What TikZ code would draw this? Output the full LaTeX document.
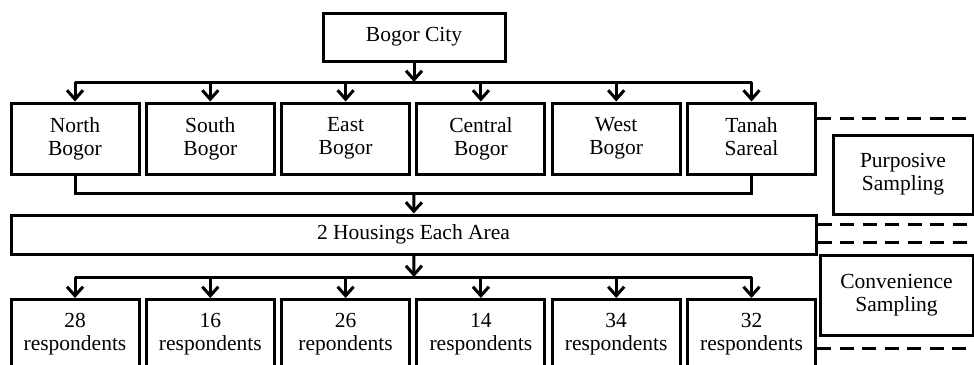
\documentclass[tikz,border=0pt]{standalone}
\usepackage{fontspec}
\setmainfont{Liberation Serif}
\usetikzlibrary{arrows.meta}

\begin{document}
\begin{tikzpicture}[x=1pt,y=-1pt,
  box/.style={draw,line width=3pt,align=center,inner sep=0pt,
    font=\fontsize{21.5}{23}\selectfont},
  area/.style={box,minimum width=128pt,minimum height=71pt},
  link/.style={line width=3pt},
  arr/.style={link,-{Straight Barb[length=9pt,width=16pt]}},
  guide/.style={line width=3pt,dash pattern=on 14pt off 8.5pt}]
  \useasboundingbox (0,0) rectangle (974,364);
  \clip (0,0) rectangle (974,364);
  \coordinate (edge) at (974,0);
  % top of the tree
  \node[box,minimum width=182pt,minimum height=48pt] (city) at (414,37) {Bogor City};
  \foreach \txt [count=\i] in {North\\Bogor,South\\Bogor,East\\Bogor,Central\\Bogor,West\\Bogor,Tanah\\Sareal\vphantom{g}}
    \node[area] (d\i) at ({75+135.3*(\i-1)},138.5) {\txt};
  \coordinate (busA) at (414,82);
  \draw[arr] (city) -- (busA);
  \draw[link] (d1 |- busA) -- (d6 |- busA);
  \foreach \i in {1,...,6} \draw[arr] (d\i |- busA) -- (d\i);
  % housings
  \node[box,minimum width=805pt,minimum height=39pt] (house) at (413.5,234.5) {2 Housings Each Area};
  \coordinate (busB) at (414,193);
  \draw[link] (d1) -- (d1 |- busB) -- (d6 |- busB) -- (d6);
  \draw[arr] (busB) -- (house);
  % respondents
  \foreach \n/\w [count=\i] in {28/respondents,16/respondents,26/repondents,14/respondents,34/respondents,32/respondents}
    \node[area,minimum height=70pt] (r\i) at ({75+135.3*(\i-1)},334.5) {\n\\\w};
  \coordinate (busC) at (414,277);
  \draw[arr] (house) -- (busC);
  \draw[link] (r1 |- busC) -- (r6 |- busC);
  \foreach \i in {1,...,6} \draw[arr] (r\i |- busC) -- (r\i);
  % sampling methods
  \node[box,minimum width=140pt,minimum height=79pt] (purp) at (903,174.5) {Purposive\\Sampling};
  \node[box,minimum width=153pt,minimum height=80pt] (conv) at (896.5,295) {Convenience\\Sampling};
  \draw[guide] (d6.east |- 0,118) -- (edge |- 0,118);
  \draw[guide] (house.east |- 0,224) -- (edge |- 0,224);
  \draw[guide] (house.east |- 0,242) -- (edge |- 0,242);
  \draw[guide] (r6.east |- 0,348) -- (edge |- 0,348);
\end{tikzpicture}
\end{document}
